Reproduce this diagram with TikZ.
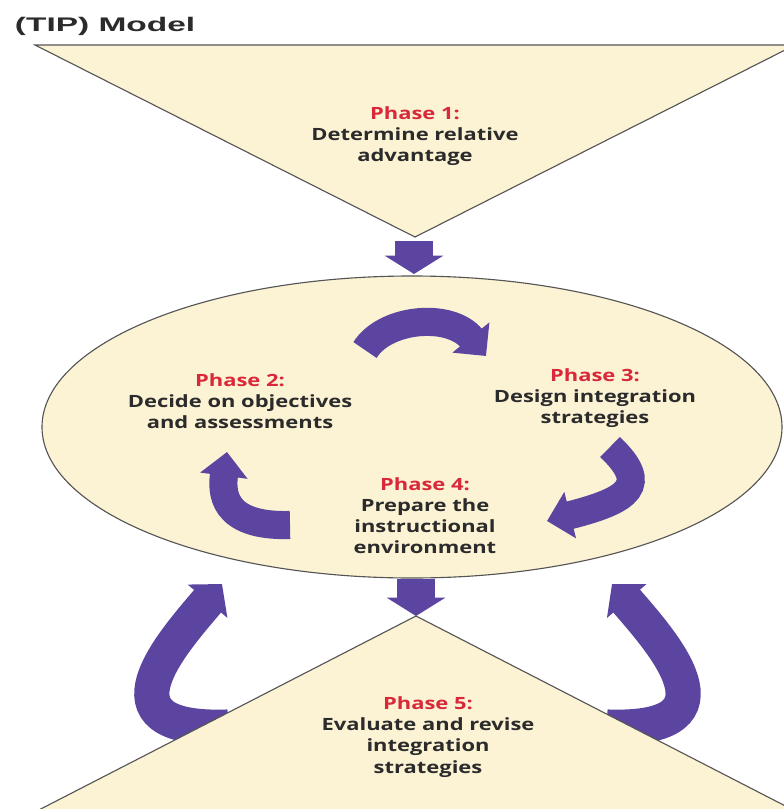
\documentclass[tikz,border=0pt]{standalone}
\usepackage{fontspec}
\setmainfont{Open Sans}[FakeStretch=1.3]
\newfontfamily\titlefont{Liberation Sans}[FakeStretch=1.7]
\usepackage{xcolor}
\usetikzlibrary{arrows.meta}
\definecolor{cream}{HTML}{FCF3D5}
\definecolor{grape}{HTML}{5B45A0}
\definecolor{phasered}{HTML}{D8283A}
\definecolor{ink}{HTML}{2B2B2B}
\definecolor{rim}{HTML}{555555}

\begin{document}
\begin{tikzpicture}[x=0.025cm, y=-0.025cm,
  panel/.style={fill=cream, draw=rim, line width=0.8pt},
  phasetext/.style={align=center, text=ink, font=\bfseries\fontsize{12}{15}\selectfont},
  bigdown/.style={draw=grape, line width=27pt, -{Triangle[width=41pt, length=13pt]}},
  swoop/.style={draw=grape, line width=20pt, -{Triangle[width=33pt, length=17pt]}},
  loopback/.style={draw=grape, line width=25pt, -{Triangle[width=36pt, length=16pt]}}]
  \useasboundingbox (0,0) rectangle (783,809);

  \node[anchor=base west, text=ink, font=\titlefont\bfseries\fontsize{14}{16}\selectfont] (title) at (10,31) {(TIP) Model};

  % phase 1 funnel and the cycle
  \filldraw[panel] (35,45) -- (795,45) -- (415,237) -- cycle;
  \filldraw[panel] (412,427) ellipse [x radius=370, y radius=151];

  \coordinate (a1s) at (414,241);
  \coordinate (a1e) at (414,274);
  \draw[bigdown] (a1s) -- (a1e);

  % arrows inside the cycle
  \coordinate (t23) at (365,350);
  \coordinate (h23) at (486,356);
  \draw[swoop] (t23) .. controls (385,318) and (450,312) .. (h23);
  \coordinate (t34) at (610,447);
  \coordinate (h34) at (547,521);
  \draw[swoop] (t34) .. controls (650,485) and (630,500) .. (h34);
  \coordinate (t42) at (290,525);
  \coordinate (h42) at (227,452);
  \draw[swoop] (t42) .. controls (220,527) and (222,490) .. (h42);

  \coordinate (a5s) at (416,579);
  \coordinate (a5e) at (416,616);
  \draw[bigdown] (a5s) -- (a5e);

  % loops back from phase 5
  \coordinate (tl) at (228,727);
  \coordinate (hl) at (222,584);
  \draw[loopback] (tl) .. controls (90,732) and (175,640) .. (hl);
  \coordinate (tr) at (607,727);
  \coordinate (hr) at (612,584);
  \draw[loopback] (tr) .. controls (745,732) and (660,640) .. (hr);

  \filldraw[panel] (416,616) -- (-4,832) -- (836,832) -- cycle;

  \node[phasetext] (p1) at (415,136) {\textcolor{phasered}{Phase 1:}\\Determine relative\\advantage};
  \node[phasetext] (p2) at (240,401) {\textcolor{phasered}{Phase 2:}\\Decide on objectives\\and assessments};
  \node[phasetext] (p3) at (595,398) {\textcolor{phasered}{Phase 3:}\\Design integration\\strategies};
  \node[phasetext] (p4) at (425,516) {\textcolor{phasered}{Phase 4:}\\Prepare the\\instructional\\environment};
  \node[phasetext] (p5) at (428,737) {\textcolor{phasered}{Phase 5:}\\Evaluate and revise\\integration\\strategies};
\end{tikzpicture}
\end{document}
